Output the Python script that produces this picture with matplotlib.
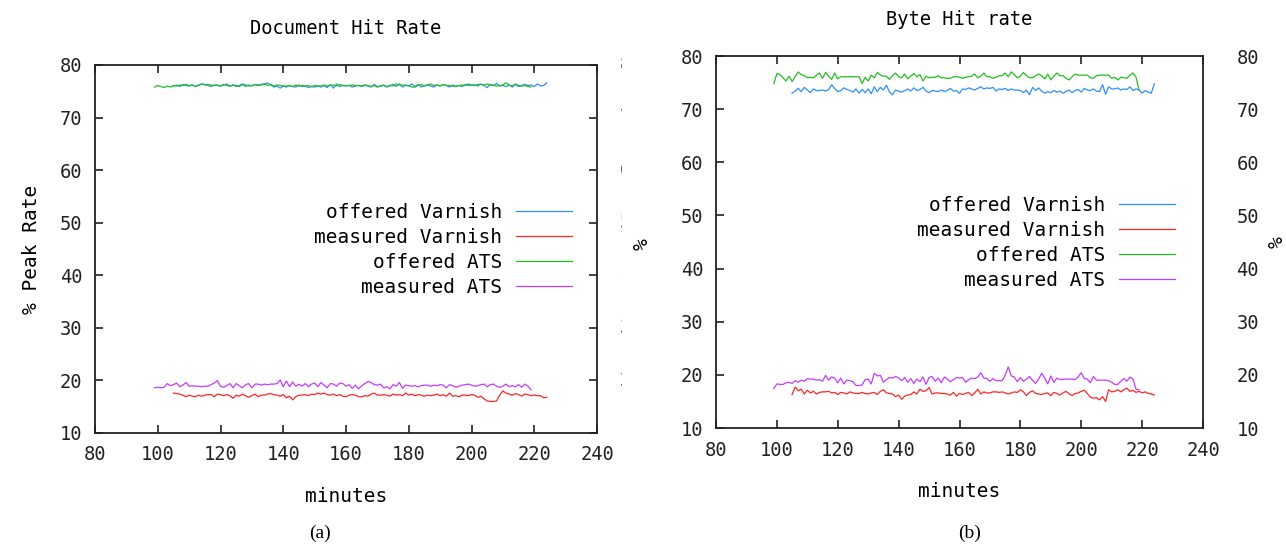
import matplotlib.pyplot as plt
import numpy as np
from matplotlib.transforms import Bbox, blended_transform_factory

plt.rcParams['font.family'] = ['DejaVu Sans Mono']

# series start minutes, one sample per minute
ats_start = 99
var_start = 105

# --- (a) Document Hit Rate ---
doc_offered_ats = [
    75.8, 76.1, 75.9, 75.7, 76.0, 75.8, 76.1, 76.0, 76.2, 76.1,
    76.3, 76.1, 76.2, 75.9, 76.2, 76.4, 76.2, 76.3, 76.2, 76.1,
    76.2, 76.0, 76.2, 76.4, 75.9, 76.2, 76.1, 75.9, 76.3, 75.9,
    76.2, 76.0, 76.3, 76.1, 76.2, 76.4, 76.1, 76.3, 76.0, 76.2,
    76.1, 76.0, 76.0, 76.1, 75.9, 76.2, 76.0, 76.1, 76.0, 76.1,
    75.9, 76.1, 76.0, 76.0, 76.2, 76.0, 76.1, 76.2, 76.0, 76.3,
    76.1, 76.1, 76.1, 76.2, 76.1, 76.1, 76.0, 76.2, 76.1, 75.9,
    76.1, 75.8, 76.0, 76.1, 75.9, 76.1, 76.0, 76.4, 76.2, 76.2,
    76.1, 76.1, 75.8, 75.8, 76.1, 76.3, 76.0, 76.2, 76.4, 76.1,
    76.2, 76.0, 76.3, 76.1, 76.1, 76.0, 75.9, 76.1, 76.2, 76.1,
    76.4, 76.2, 76.1, 76.3, 76.3, 76.2, 76.4, 76.2, 76.1, 76.0,
    76.1, 76.2, 76.6, 76.2, 76.0, 76.4, 76.1, 76.0, 76.1, 75.9, 75.8]
doc_offered_var = [
    76.0, 76.2, 75.9, 76.3, 76.1, 76.0, 76.2, 75.9, 76.1, 76.4,
    76.3, 76.1, 75.9, 76.2, 76.1, 76.0, 76.3, 76.1, 76.0, 76.2,
    75.9, 76.1, 76.4, 76.2, 76.0, 76.1, 76.3, 76.2, 76.3, 76.4,
    76.6, 76.2, 75.8, 76.0, 75.6, 76.0, 75.8, 76.1, 75.9, 75.8,
    76.2, 75.9, 76.0, 75.7, 75.9, 75.8, 76.0, 75.8, 76.1, 75.7,
    76.3, 75.6, 76.4, 75.9, 76.1, 76.0, 76.1, 75.8, 76.0, 76.1,
    75.9, 76.1, 76.0, 75.8, 76.3, 75.9, 76.0, 76.2, 75.8, 76.1,
    76.3, 75.9, 76.4, 75.8, 76.2, 76.0, 76.4, 75.9, 76.3, 75.8,
    76.1, 76.2, 76.0, 75.8, 76.2, 76.0, 76.3, 76.1, 75.8, 76.2,
    76.0, 76.1, 75.9, 76.3, 76.1, 76.2, 76.2, 76.0, 76.4, 76.1,
    75.7, 76.3, 76.1, 76.5, 76.0, 76.1, 75.9, 76.2, 75.8, 76.3,
    75.9, 76.1, 76.3, 76.1, 76.2, 75.9, 76.4, 76.0, 76.1, 76.6]
doc_measured_ats = [
    18.6, 18.7, 18.6, 18.7, 19.4, 19.0, 19.2, 19.5, 18.8, 19.1,
    19.6, 18.9, 19.0, 18.9, 18.9, 18.8, 18.9, 18.9, 19.2, 19.5,
    20.0, 18.9, 18.7, 19.0, 19.4, 18.6, 19.4, 19.0, 18.6, 19.2,
    19.4, 18.6, 19.3, 19.3, 19.1, 19.3, 19.2, 19.3, 19.3, 19.4,
    20.1, 18.8, 19.9, 18.8, 19.7, 18.9, 19.3, 18.9, 19.4, 18.8,
    19.3, 19.5, 18.8, 19.6, 19.1, 18.6, 19.4, 19.3, 18.9, 19.5,
    19.4, 18.9, 19.2, 18.5, 19.1, 18.4, 19.0, 19.4, 19.8, 19.6,
    19.2, 19.1, 19.3, 18.6, 18.8, 18.4, 19.2, 18.9, 19.6, 18.5,
    19.1, 19.0, 18.9, 19.0, 18.8, 19.0, 19.1, 19.1, 18.9, 19.1,
    19.0, 19.2, 19.1, 18.6, 19.2, 19.0, 18.7, 18.9, 19.1, 19.2,
    19.3, 19.1, 18.9, 19.0, 19.2, 19.3, 18.8, 19.2, 19.3, 18.9,
    18.7, 18.9, 19.3, 18.8, 19.0, 18.8, 19.2, 18.7, 19.3, 18.9, 18.2]
doc_measured_var = [
    17.6, 17.5, 17.4, 17.2, 16.9, 17.2, 17.0, 16.9, 17.2, 17.0,
    17.2, 17.3, 17.3, 16.9, 17.4, 17.3, 17.1, 17.3, 17.1, 16.6,
    17.2, 17.0, 17.4, 17.1, 16.8, 17.1, 17.4, 16.9, 17.2, 17.2,
    17.4, 17.5, 17.3, 17.2, 17.0, 17.3, 16.7, 17.0, 16.3, 16.9,
    17.2, 17.2, 17.3, 17.1, 17.4, 17.3, 17.6, 17.4, 17.6, 17.3,
    17.2, 17.4, 17.1, 17.3, 17.0, 16.9, 17.2, 17.3, 17.2, 16.9,
    16.9, 17.1, 17.0, 17.4, 17.6, 17.2, 17.2, 17.3, 17.2, 17.0,
    17.4, 17.2, 17.3, 17.1, 17.6, 17.2, 17.4, 17.1, 17.3, 17.2,
    17.0, 17.2, 17.1, 17.2, 17.4, 17.1, 17.3, 17.0, 17.6, 17.0,
    17.1, 16.9, 17.2, 17.2, 17.1, 17.3, 17.2, 16.8, 17.0, 16.5,
    16.1, 16.0, 16.0, 16.1, 17.2, 18.0, 17.6, 17.4, 17.2, 17.5,
    17.3, 17.0, 17.4, 17.3, 17.1, 17.2, 17.1, 17.1, 16.7, 16.8]

# --- (b) Byte Hit rate ---
byte_offered_ats = [
    74.8, 76.7, 76.5, 75.9, 75.3, 76.2, 75.2, 76.1, 77.0, 76.5,
    76.3, 75.9, 76.0, 75.9, 76.4, 76.8, 75.8, 76.9, 76.2, 75.6,
    76.8, 75.7, 76.1, 76.1, 76.1, 76.1, 76.1, 76.1, 76.1, 74.8,
    76.0, 75.3, 76.4, 75.9, 76.9, 76.4, 76.2, 76.2, 75.6, 76.3,
    76.8, 76.1, 75.9, 76.6, 75.7, 76.2, 76.7, 76.1, 76.5, 75.3,
    76.2, 75.9, 76.0, 76.0, 76.3, 75.9, 75.9, 75.8, 75.8, 76.1,
    76.1, 76.0, 75.8, 76.0, 76.1, 76.2, 76.6, 75.9, 76.2, 76.8,
    76.1, 76.1, 75.8, 76.0, 76.3, 76.3, 76.8, 76.1, 77.0, 76.5,
    75.9, 76.2, 76.9, 76.3, 75.9, 75.9, 76.3, 76.6, 76.3, 75.7,
    76.6, 75.5, 76.2, 76.8, 76.3, 76.3, 75.8, 75.5, 76.1, 76.6,
    76.4, 76.4, 76.4, 76.4, 75.9, 75.8, 76.3, 76.4, 76.4, 76.4,
    76.4, 75.8, 76.0, 75.5, 76.0, 75.9, 75.8, 76.4, 76.8, 76.0, 73.6]
byte_offered_var = [
    73.0, 73.4, 73.9, 73.3, 74.1, 73.6, 73.1, 73.8, 73.5, 73.5,
    73.6, 73.4, 73.7, 74.6, 73.9, 73.3, 73.5, 74.0, 73.7, 73.5,
    73.2, 73.8, 73.0, 73.7, 73.1, 73.8, 72.9, 74.2, 73.3, 74.1,
    73.6, 74.5, 73.2, 72.7, 73.6, 73.4, 73.2, 73.5, 73.8, 73.4,
    74.0, 73.5, 73.7, 74.1, 73.4, 73.1, 73.5, 73.4, 73.3, 73.6,
    73.3, 73.5, 73.9, 73.4, 73.5, 73.0, 73.8, 73.7, 74.0, 73.8,
    73.6, 73.9, 74.2, 73.8, 74.0, 73.9, 74.1, 73.4, 73.8, 73.7,
    73.9, 73.5, 73.8, 73.6, 73.6, 73.5, 73.1, 73.6, 72.7, 74.1,
    73.5, 74.0, 73.4, 73.0, 73.3, 73.1, 73.5, 73.2, 73.4, 73.0,
    73.3, 73.6, 73.1, 73.5, 73.7, 73.2, 73.9, 73.6, 73.5, 73.8,
    73.4, 73.3, 74.6, 72.8, 74.2, 73.8, 73.8, 74.0, 73.6, 73.8,
    73.7, 74.2, 73.5, 73.8, 73.6, 73.0, 73.5, 73.2, 73.0, 74.8]
byte_measured_ats = [
    17.4, 18.3, 18.2, 18.2, 18.5, 18.6, 18.4, 18.9, 18.6, 19.0,
    18.8, 19.3, 19.2, 19.2, 19.0, 19.1, 18.8, 19.9, 19.0, 19.6,
    19.4, 18.5, 19.4, 18.3, 19.0, 18.9, 18.7, 18.0, 18.0, 18.1,
    19.1, 19.2, 18.3, 20.3, 19.8, 19.9, 18.6, 19.1, 19.5, 19.4,
    19.7, 19.4, 18.9, 19.5, 18.6, 19.3, 18.4, 19.2, 18.7, 19.6,
    18.2, 19.5, 19.7, 18.8, 19.4, 18.5, 19.6, 19.2, 18.7, 19.1,
    19.5, 19.4, 19.5, 18.6, 19.1, 19.4, 19.3, 19.6, 20.4, 19.4,
    19.3, 18.8, 19.3, 18.9, 18.9, 18.9, 19.9, 21.5, 19.8, 19.6,
    18.7, 19.5, 18.8, 19.2, 19.7, 19.0, 18.4, 19.2, 20.3, 19.4,
    18.3, 19.8, 18.6, 19.4, 19.1, 19.2, 19.2, 19.2, 19.2, 19.1,
    19.6, 20.4, 19.3, 19.2, 18.5, 19.7, 19.0, 19.0, 19.0, 19.0,
    18.9, 18.6, 18.2, 18.2, 18.8, 19.3, 18.8, 19.6, 19.2, 17.3, 17.2]
byte_measured_var = [
    16.3, 17.7, 17.0, 17.3, 16.4, 17.1, 16.6, 16.9, 16.4, 16.7,
    16.8, 16.8, 16.9, 16.6, 16.7, 16.3, 16.7, 16.6, 16.4, 16.8,
    16.6, 16.5, 16.5, 16.7, 16.5, 16.4, 16.6, 16.7, 16.3, 16.9,
    17.2, 16.6, 16.5, 16.4, 15.9, 16.2, 15.4, 16.0, 16.2, 16.3,
    16.8, 16.4, 17.3, 16.9, 17.0, 17.6, 16.4, 16.6, 16.6, 16.5,
    16.5, 16.4, 16.2, 16.7, 16.0, 16.5, 16.3, 16.5, 16.7, 16.1,
    16.6, 17.3, 16.4, 16.8, 16.6, 16.6, 16.8, 16.8, 16.7, 16.8,
    16.6, 16.4, 16.6, 16.8, 16.7, 17.2, 16.8, 16.1, 16.7, 17.0,
    16.5, 16.4, 16.3, 16.5, 16.6, 16.1, 16.7, 16.5, 16.2, 16.6,
    16.9, 16.4, 16.1, 16.5, 16.6, 16.9, 17.1, 16.5, 15.8, 15.6,
    15.7, 15.3, 15.9, 15.0, 17.2, 16.8, 16.9, 17.2, 16.8, 17.2,
    17.5, 16.9, 17.1, 16.7, 16.9, 16.6, 16.8, 16.5, 16.4, 16.2]

labels = ['offered Varnish', 'measured Varnish', 'offered ATS', 'measured ATS']
colors = ['#2e8fff', '#ff2626', '#22bf22', '#c43cff']
xticks = [80, 100, 120, 140, 160, 180, 200, 220, 240]
yticks = [10, 20, 30, 40, 50, 60, 70, 80]

W, H = 1286, 547
fig = plt.figure(figsize=(W / 100, H / 100), dpi=100)
ink = '#222222'


def panel(rect, title, ylabel, series, legend_xy):
    ax = fig.add_axes(rect)
    for (start, vals), lab, c in zip(series, labels, colors):
        x = np.arange(start, start + len(vals))
        ax.plot(x, vals, color=c, lw=0.9, label=lab)
    ax.set_xlim(80, 240)
    ax.set_ylim(10, 80)
    ax.set_xticks(xticks)
    ax.set_yticks(yticks)
    ax.tick_params(direction='in', length=6, width=1.2, labelsize=13.5,
                   top=True, right=True, pad=9, colors=ink)
    for s in ax.spines.values():
        s.set_linewidth(1.3)
        s.set_color(ink)
    ax.set_title(title, fontsize=13.5, pad=22)
    ax.set_xlabel('minutes', fontsize=14, labelpad=16)
    ax.set_ylabel(ylabel, fontsize=14, labelpad=14)
    ax.legend(loc='upper right', bbox_to_anchor=(legend_xy[0] / W, 1 - legend_xy[1] / H),
              bbox_transform=fig.transFigure, frameon=False, markerfirst=False,
              fontsize=14, handlelength=2.9, handletextpad=0.7, labelspacing=0.31,
              borderpad=0, borderaxespad=0)
    return ax


ax1 = panel([95 / W, 1 - 433 / H, 502 / W, 368 / H], 'Document Hit Rate', '% Peak Rate',
            [(var_start, doc_offered_var), (var_start, doc_measured_var),
             (ats_start, doc_offered_ats), (ats_start, doc_measured_ats)],
            (572, 203))

ax2 = panel([716 / W, 1 - 428 / H, 487 / W, 372 / H], 'Byte Hit rate', '%',
            [(var_start, byte_offered_var), (var_start, byte_measured_var),
             (ats_start, byte_offered_ats), (ats_start, byte_measured_ats)],
            (1175, 196))
ax2.yaxis.label.set_visible(False)
# right-side labels of the byte panel
ax2r = ax2.twinx()
ax2r.set_ylim(10, 80)
ax2r.set_yticks(yticks)
ax2r.tick_params(direction='in', length=0, labelsize=13.5, pad=24, colors=ink)
ax2r.set_ylabel('%', fontsize=14, labelpad=6, rotation=90)
for s in ax2r.spines.values():
    s.set_visible(False)
# left-side "%" label for the byte panel
fig.text(642 / W, 1 - 244 / H, '%', rotation=90, fontsize=14, ha='center', va='center')

# cropped right-axis labels of panel (a): only their left edge shows
clip = Bbox([[0, 0], [622, H]])
trans = blended_transform_factory(ax1.transAxes, ax1.transData)
for v in yticks:
    t = ax1.text(1.046, v, str(v), transform=trans, fontsize=13.5, ha='left', va='center',
                 color=ink)
    t.set_clip_box(clip)
    t.set_clip_on(True)

fig.text(320 / W, 1 - 533 / H, '(a)', fontsize=14, family='Liberation Serif', ha='center', va='center')
fig.text(970 / W, 1 - 533 / H, '(b)', fontsize=14, family='Liberation Serif', ha='center', va='center')

fig.savefig('out.png', dpi=100)
